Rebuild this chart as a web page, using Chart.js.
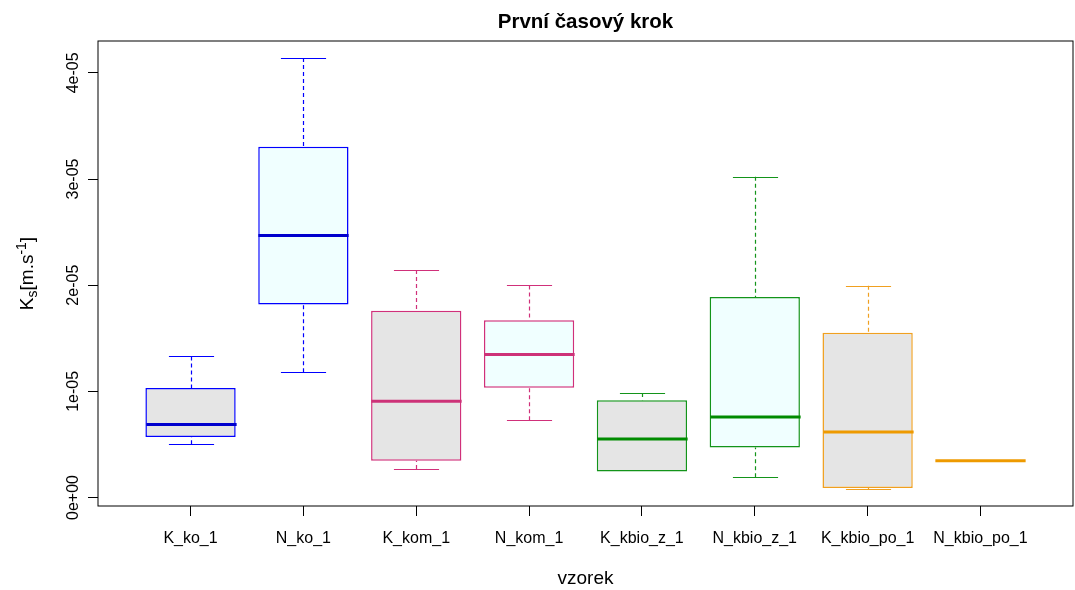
<!DOCTYPE html>
<html>
<head>
<meta charset="utf-8">
<script src="https://cdn.jsdelivr.net/npm/chart.js@4"></script>
<style>
  html, body { margin: 0; padding: 0; background: #ffffff; }
  #wrap { width: 1075px; height: 590px; position: relative; }
</style>
</head>
<body>
<div id="wrap"><canvas id="c"></canvas></div>
<script>
// Five-number summaries of the saturated hydraulic conductivity per sample
const categories = ['K_ko_1', 'N_ko_1', 'K_kom_1', 'N_kom_1', 'K_kbio_z_1', 'N_kbio_z_1', 'K_kbio_po_1', 'N_kbio_po_1'];
const lowerWhisker = [0.502e-5, 1.181e-5, 0.268e-5, 0.728e-5, 0.246e-5, 0.190e-5, 0.080e-5, 0.346e-5];
const lowerQuartile = [0.571e-5, 1.817e-5, 0.346e-5, 1.035e-5, 0.246e-5, 0.471e-5, 0.089e-5, 0.346e-5];
const medians = [0.687e-5, 2.468e-5, 0.906e-5, 1.347e-5, 0.552e-5, 0.759e-5, 0.618e-5, 0.346e-5];
const upperQuartile = [1.031e-5, 3.303e-5, 1.758e-5, 1.670e-5, 0.915e-5, 1.889e-5, 1.551e-5, 0.346e-5];
const upperWhisker = [1.329e-5, 4.139e-5, 2.143e-5, 1.998e-5, 0.984e-5, 3.022e-5, 1.995e-5, 0.346e-5];

const yTickValues = [0, 1e-5, 2e-5, 3e-5, 4e-5];
const yTickLabels = ['0e+00', '1e-05', '2e-05', '3e-05', '4e-05'];

// Styling
const FONT = '"Liberation Sans", Arial, Helvetica, sans-serif';
const lineColors = ['#0000ff', '#0000ff', '#d0307a', '#d0307a', '#13941a', '#13941a', '#f0a020', '#f0a020'];
const medianColors = ['#0000cd', '#0000cd', '#cd3278', '#cd3278', '#008b00', '#008b00', '#ee9a00', '#ee9a00'];
const fillColors = ['#e5e5e5', '#f0ffff', '#e5e5e5', '#f0ffff', '#e5e5e5', '#f0ffff', '#e5e5e5', '#f0ffff'];

const xPositions = categories.map((_, i) => i + 1);

// Whiskers, caps, medians, frame and rotated texts
const boxplotExtras = {
  id: 'boxplotExtras',
  afterDatasetsDraw(chart) {
    const { ctx, scales: { x, y } } = chart;
    const unit = x.getPixelForValue(2) - x.getPixelForValue(1);
    const boxHalf = unit * 0.4;
    const capHalf = boxHalf * 0.5;
    ctx.save();
    xPositions.forEach((pos, i) => {
      const cx = Math.round(x.getPixelForValue(pos)) + 0.5;
      const yLo = y.getPixelForValue(lowerWhisker[i]);
      const yQ1 = y.getPixelForValue(lowerQuartile[i]);
      const yMed = y.getPixelForValue(medians[i]);
      const yQ3 = y.getPixelForValue(upperQuartile[i]);
      const yHi = y.getPixelForValue(upperWhisker[i]);
      ctx.strokeStyle = lineColors[i];
      ctx.lineWidth = 1.2;
      // dashed whiskers
      ctx.setLineDash([4, 3]);
      ctx.beginPath();
      if (yHi < yQ3) { ctx.moveTo(cx, yHi); ctx.lineTo(cx, yQ3); }
      if (yLo > yQ1) { ctx.moveTo(cx, yLo); ctx.lineTo(cx, yQ1); }
      ctx.stroke();
      // caps
      ctx.setLineDash([]);
      ctx.beginPath();
      if (yHi < yQ3) {
        const yy = Math.round(yHi) + 0.5;
        ctx.moveTo(cx - capHalf, yy); ctx.lineTo(cx + capHalf, yy);
      }
      if (yLo > yQ1) {
        const yy = Math.round(yLo) + 0.5;
        ctx.moveTo(cx - capHalf, yy); ctx.lineTo(cx + capHalf, yy);
      }
      ctx.stroke();
      // median
      ctx.strokeStyle = medianColors[i];
      ctx.lineWidth = 3;
      ctx.beginPath();
      ctx.moveTo(cx - boxHalf, yMed);
      ctx.lineTo(cx + boxHalf, yMed);
      ctx.stroke();
    });
    ctx.restore();
  },
  afterDraw(chart) {
    const { ctx, chartArea: a, scales: { y } } = chart;
    ctx.save();
    // plot frame
    ctx.strokeStyle = '#000000';
    ctx.lineWidth = 1;
    ctx.strokeRect(a.left, a.top, a.right - a.left, a.bottom - a.top);

    // y tick labels, rotated
    ctx.fillStyle = '#000000';
    ctx.font = '16px ' + FONT;
    ctx.textAlign = 'center';
    ctx.textBaseline = 'alphabetic';
    yTickValues.forEach((v, i) => {
      const py = y.getPixelForValue(v);
      ctx.save();
      ctx.translate(a.left - 20, py);
      ctx.rotate(-Math.PI / 2);
      ctx.fillText(yTickLabels[i], 0, 0);
      ctx.restore();
    });

    // title
    ctx.font = 'bold 20.5px ' + FONT;
    ctx.textAlign = 'center';
    ctx.fillText('První časový krok', (a.left + a.right) / 2, 28);

    // x axis title
    ctx.font = '19px ' + FONT;
    ctx.fillText('vzorek', (a.left + a.right) / 2, 584);

    // y axis title: K_s[m.s^-1]
    const parts = [
      { t: 'K', size: 19, dy: 0 },
      { t: 's', size: 14, dy: 4 },
      { t: '[m.s', size: 19, dy: 0 },
      { t: '-1', size: 14, dy: -7 },
      { t: ']', size: 19, dy: 0 }
    ];
    let total = 0;
    parts.forEach(p => { ctx.font = p.size + 'px ' + FONT; p.w = ctx.measureText(p.t).width; total += p.w; });
    ctx.save();
    ctx.translate(33, (a.top + a.bottom) / 2);
    ctx.rotate(-Math.PI / 2);
    ctx.textAlign = 'left';
    let cx = -total / 2;
    parts.forEach(p => {
      ctx.font = p.size + 'px ' + FONT;
      ctx.fillText(p.t, cx, p.dy);
      cx += p.w;
    });
    ctx.restore();
    ctx.restore();
  }
};

new Chart(document.getElementById('c'), {
  type: 'bar',
  data: {
    datasets: [{
      data: xPositions.map((pos, i) => ({ x: pos, y: [lowerQuartile[i], upperQuartile[i]] })),
      backgroundColor: fillColors,
      borderColor: lineColors,
      borderWidth: 1.5,
      borderSkipped: false,
      categoryPercentage: 1,
      barPercentage: 0.8
    }]
  },
  options: {
    responsive: true,
    maintainAspectRatio: false,
    animation: false,
    events: [],
    layout: { padding: { top: 41, left: 0, right: 2, bottom: 0 } },
    plugins: { legend: { display: false }, tooltip: { enabled: false }, title: { display: false } },
    scales: {
      x: {
        type: 'linear',
        min: 0.18,
        max: 8.82,
        offset: false,
        afterBuildTicks: s => { s.ticks = xPositions.map(v => ({ value: v })); },
        afterFit: s => { s.height = 84; },
        grid: { drawOnChartArea: false, drawTicks: true, tickLength: 10, color: '#000000', offset: false },
        border: { display: false },
        ticks: {
          autoSkip: false,
          maxRotation: 0,
          padding: 13,
          color: '#000000',
          font: { family: FONT, size: 16 },
          callback: v => categories[Math.round(v) - 1]
        }
      },
      y: {
        type: 'linear',
        min: -0.08e-5,
        max: 4.30e-5,
        afterBuildTicks: s => { s.ticks = yTickValues.map(v => ({ value: v })); },
        afterFit: s => { s.width = 98; },
        grid: { drawOnChartArea: false, drawTicks: true, tickLength: 10, color: '#000000' },
        border: { display: false },
        ticks: { display: false }
      }
    }
  },
  plugins: [boxplotExtras]
});
</script>
</body>
</html>
